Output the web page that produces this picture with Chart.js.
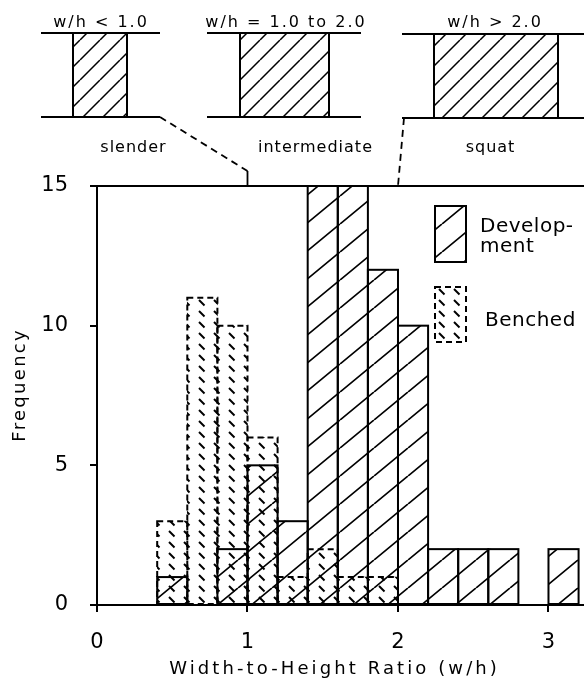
<!DOCTYPE html>
<html>
<head>
<meta charset="utf-8">
<title>Width-to-height ratio histogram</title>
<script src="https://cdn.jsdelivr.net/npm/chart.js@4.4.1/dist/chart.umd.min.js"></script>
<style>
  html, body { margin: 0; padding: 0; background: #fff; }
  #wrap { width: 584px; height: 681px; }
</style>
</head>
<body>
<div id="wrap"><canvas id="histo" width="584" height="681"></canvas></div>
<script>
// bins are 0.2 wide, each value sits at the bin centre
const binCentres = [0.5, 0.7, 0.9, 1.1, 1.3, 1.5, 1.7, 1.9, 2.1, 2.3, 2.5, 2.7, 2.9, 3.1];
const development = [1, 0, 2, 5, 3, 16, 15, 12, 10, 2, 2, 2, 0, 2];
const benched     = [3, 11, 10, 6, 1, 2, 1, 1, 0, 0, 0, 0, 0, 0];
const xTicks = [0, 1, 2, 3];
const yTicks = [0, 5, 10, 15];
const classLabels = ["w/h < 1.0", "w/h = 1.0 to 2.0", "w/h > 2.0"];
const classNames = ["slender", "intermediate", "squat"];
const legendLines = [["Develop-", "ment"], ["Benched"]];
const xTitle = "Width-to-Height Ratio (w/h)";
const yTitle = "Frequency";

const FONT = '"DejaVu Sans", sans-serif';

// --- hatch patterns ---
function makePattern(w, h, draw) {
    const c = document.createElement("canvas");
    c.width = w;
    c.height = h;
    const g = c.getContext("2d");
    g.strokeStyle = "#000";
    draw(g, w, h);
    return g.createPattern(c, "repeat");
}

const slashHatch = makePattern(34, 28, (g, w, h) => {
    g.lineWidth = 1.7;
    g.beginPath();
    for (let k = -1; k <= 1; k++) {
        g.moveTo(k * w, h);
        g.lineTo(k * w + w, 0);
    }
    g.stroke();
});

const dashHatch = makePattern(15, 11, (g) => {
    g.lineWidth = 1.9;
    g.beginPath();
    g.moveTo(4, 3);
    g.lineTo(9.5, 8.5);
    g.stroke();
});

const pillarHatch = makePattern(20, 20, (g, w, h) => {
    g.lineWidth = 1.5;
    g.beginPath();
    for (let k = -1; k <= 1; k++) {
        g.moveTo(k * w, h);
        g.lineTo(k * w + w, 0);
    }
    g.stroke();
});

function line(ctx, x1, y1, x2, y2) {
    ctx.beginPath();
    ctx.moveTo(x1, y1);
    ctx.lineTo(x2, y2);
    ctx.stroke();
}

function spacedText(ctx, txt, x, y, size, spacing, align) {
    ctx.font = size + "px " + FONT;
    ctx.letterSpacing = spacing + "px";
    ctx.textAlign = align || "center";
    ctx.textBaseline = "alphabetic";
    ctx.fillStyle = "#000";
    // trailing letter spacing pushes centred text left, nudge it back
    const dx = (align || "center") === "center" ? spacing / 2 : 0;
    ctx.fillText(txt, x + dx, y);
    ctx.letterSpacing = "0px";
}

function drawPillar(ctx, lineL, lineR, rectL, rectR, yTop, yBot) {
    ctx.setLineDash([]);
    ctx.lineWidth = 2;
    ctx.fillStyle = pillarHatch;
    ctx.fillRect(rectL, yTop, rectR - rectL, yBot - yTop);
    line(ctx, lineL, yTop, lineR, yTop);
    line(ctx, lineL, yBot, lineR, yBot);
    line(ctx, rectL, yTop, rectL, yBot);
    line(ctx, rectR, yTop, rectR, yBot);
}

const decorPlugin = {
    id: "decor",
    beforeDraw(chart) {
        const ctx = chart.ctx;
        ctx.save();
        ctx.fillStyle = "#fff";
        ctx.fillRect(0, 0, chart.width, chart.height);
        ctx.restore();
    },
    afterDatasetsDraw(chart) {
        // bar outlines: solid for development, dashed for benched
        const { ctx, chartArea: a } = chart;
        ctx.save();
        ctx.beginPath();
        ctx.rect(a.left, a.top - 1, a.right - a.left, a.bottom - a.top + 2);
        ctx.clip();
        ctx.strokeStyle = "#000";
        ctx.lineWidth = 2;
        chart.data.datasets.forEach((ds, i) => {
            const meta = chart.getDatasetMeta(i);
            ctx.setLineDash(ds.outlineDash || []);
            meta.data.forEach((bar, j) => {
                if (!ds.data[j].y) return;
                const p = bar.getProps(["x", "y", "base", "width"], true);
                ctx.strokeRect(p.x - p.width / 2, p.y, p.width, p.base - p.y);
            });
        });
        ctx.restore();
    },
    afterDraw(chart) {
        const { ctx, chartArea: a } = chart;
        const xs = chart.scales.x;
        ctx.save();
        ctx.strokeStyle = "#000";
        ctx.lineCap = "butt";

        // top frame line
        ctx.lineWidth = 2;
        line(ctx, a.left - 7, a.top, a.right, a.top);

        // pillar sketches above the plot
        drawPillar(ctx, 41, 160, 73, 127, 33, 117);
        drawPillar(ctx, 207, 361, 240, 329, 33, 117);
        drawPillar(ctx, 402, 584, 434, 558, 34, 118);

        const x1 = xs.getPixelForValue(1);
        const x2 = xs.getPixelForValue(2);
        ctx.lineWidth = 1.8;
        ctx.setLineDash([7, 5]);
        line(ctx, 160, 117, x1, 171);
        line(ctx, 404, 118, x2, a.top);
        ctx.setLineDash([]);
        line(ctx, x1, 171, x1, a.top);

        spacedText(ctx, classLabels[0], 100, 27, 16, 2);
        spacedText(ctx, classLabels[1], 285, 27, 16, 2);
        spacedText(ctx, classLabels[2], 494, 27, 16, 2);
        spacedText(ctx, classNames[0], 133, 152, 16, 1);
        spacedText(ctx, classNames[1], 315, 152, 16, 1);
        spacedText(ctx, classNames[2], 490, 152, 16, 1);

        // legend
        ctx.lineWidth = 2;
        ctx.fillStyle = slashHatch;
        ctx.fillRect(435, 206, 31, 56);
        ctx.strokeRect(435, 206, 31, 56);
        ctx.fillStyle = dashHatch;
        ctx.fillRect(435, 287, 31, 55);
        ctx.setLineDash([6, 4]);
        ctx.strokeRect(435, 287, 31, 55);
        ctx.setLineDash([]);
        spacedText(ctx, legendLines[0][0], 480, 232, 20, 0.5, "left");
        spacedText(ctx, legendLines[0][1], 480, 252, 20, 0.5, "left");
        spacedText(ctx, legendLines[1][0], 485, 326, 20, 0.5, "left");

        // axis titles
        spacedText(ctx, xTitle, 333, 674, 18, 3.1);
        ctx.translate(25, 386);
        ctx.rotate(-Math.PI / 2);
        spacedText(ctx, yTitle, 0, 0, 18, 2.3);
        ctx.restore();
    }
};

const devPoints = binCentres.map((x, i) => ({ x: x, y: development[i] }));
const benPoints = binCentres.map((x, i) => ({ x: x, y: benched[i] }));

const axisGrid = {
    display: true,
    drawOnChartArea: false,
    drawTicks: true,
    offset: false,
    tickLength: 7,
    color: "#000",
    lineWidth: 2
};

new Chart(document.getElementById("histo"), {
    type: "bar",
    data: {
        datasets: [
            {
                label: "Development",
                data: devPoints,
                backgroundColor: slashHatch,
                borderWidth: 0,
                grouped: false,
                barPercentage: 1,
                categoryPercentage: 1,
                clip: 0
            },
            {
                label: "Benched",
                data: benPoints,
                backgroundColor: dashHatch,
                borderWidth: 0,
                grouped: false,
                barPercentage: 1,
                categoryPercentage: 1,
                clip: 0,
                outlineDash: [6, 4]
            }
        ]
    },
    options: {
        responsive: false,
        animation: false,
        devicePixelRatio: 1,
        layout: { padding: { top: 186, left: 0, right: 0, bottom: 0 } },
        plugins: {
            legend: { display: false },
            tooltip: { enabled: false }
        },
        scales: {
            x: {
                type: "linear",
                min: 0,
                max: 3.236,
                offset: false,
                afterBuildTicks: s => { s.ticks = xTicks.map(v => ({ value: v })); },
                afterFit: s => { s.height = 76; s.paddingLeft = 0; s.paddingRight = 0; },
                grid: axisGrid,
                border: { display: true, color: "#000", width: 2 },
                ticks: {
                    color: "#000",
                    font: { family: FONT, size: 21 },
                    padding: 18,
                    maxRotation: 0,
                    autoSkip: false
                }
            },
            y: {
                type: "linear",
                min: 0,
                max: 15,
                afterBuildTicks: s => { s.ticks = yTicks.map(v => ({ value: v })); },
                afterFit: s => { s.width = 97; s.paddingTop = 0; s.paddingBottom = 0; },
                grid: axisGrid,
                border: { display: true, color: "#000", width: 2 },
                ticks: {
                    color: "#000",
                    font: { family: FONT, size: 21 },
                    padding: 22
                }
            }
        }
    },
    plugins: [decorPlugin]
});
</script>
</body>
</html>
